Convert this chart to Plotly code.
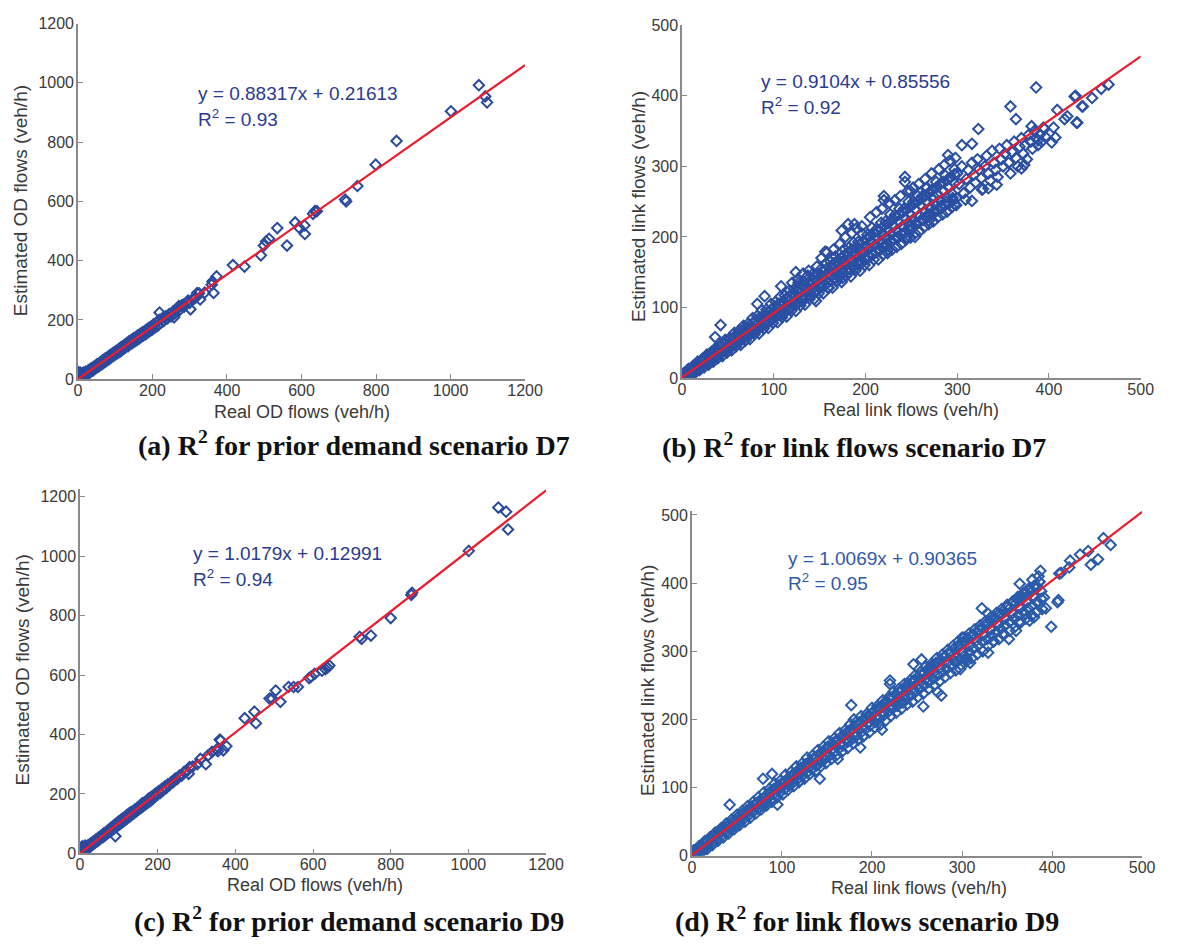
import plotly.graph_objects as go

# page is 1178x947; the browser body keeps an 8px margin, so the figure is drawn 8px in
PAGE_OFF = 8
FW, FH = 1161, 930

# ---------------- Panel (a): OD flows, scenario D7 ----------------
a_points = [
    (0, 5), (0, 15), (0, 25), (1, 2), (2, 10), (2, 0), (3, 18), (4, 6), (5, 0), (5, 12), (6, 22),
    (8, 4), (9, 14), (10, 8), (11, 20), (12, 3), (14, 12), (15, 22), (16, 8), (18, 18), (20, 12),
    (21, 26), (23, 15), (25, 24), (26, 16), (28, 30), (30, 22), (31, 32), (33, 24), (35, 36),
    (37, 28), (39, 38), (41, 30), (43, 42), (45, 35), (47, 45), (49, 38), (51, 50), (53, 42),
    (55, 52), (57, 44), (60, 57), (62, 50), (64, 61), (66, 52), (68, 65), (70, 57), (73, 70),
    (75, 60), (77, 72), (80, 66), (82, 77), (84, 68), (87, 82), (89, 74), (92, 86), (94, 78),
    (96, 90), (99, 82), (101, 94), (104, 86), (106, 98), (109, 90), (111, 103), (114, 94),
    (116, 108), (119, 99), (121, 112), (124, 104), (127, 118), (129, 108), (132, 122), (135, 112),
    (137, 128), (140, 118), (143, 132), (146, 122), (149, 138), (152, 127), (155, 142), (158, 132),
    (161, 148), (164, 137), (167, 153), (170, 143), (173, 158), (176, 148), (179, 162), (182, 152),
    (185, 168), (188, 158), (191, 174), (194, 163), (197, 178), (200, 168), (203, 185), (207, 175),
    (210, 190), (214, 180), (218, 200), (222, 190), (226, 205), (230, 196), (235, 212), (240, 205),
    (245, 220), (250, 212), (255, 228), (260, 222), (266, 238), (272, 232), (278, 248), (285, 245),
    (292, 260), (300, 258), (308, 270), (316, 275), (325, 290),
]
a_outliers = [
    (1076, 992), (1093, 954), (1098, 934), (1001, 904), (855, 804), (799, 724), (750, 652),
    (717, 606), (720, 600), (641, 567), (631, 558), (636, 567), (609, 490), (608, 519), (593, 512),
    (583, 529), (561, 451), (535, 510), (513, 474), (505, 465), (499, 451), (491, 418),
    (447, 380), (416, 385), (372, 347), (359, 319), (364, 291), (361, 330), (302, 236), (320, 291),
    (328, 269), (340, 292), (258, 209), (219, 225), (271, 247), (283, 252), (296, 265), (312, 274),
]
a_line_x = [0, 1200]
a_line_y = [0.22, 1060]

# ---------------- Panel (b): link flows, scenario D7 ----------------
b_center_x = [0, 3, 6, 9, 12, 15, 18, 21, 24, 27, 30, 33, 36, 39, 42, 45, 48, 51, 54, 57, 60, 63, 66, 69,
              72, 75, 78, 81, 84, 87, 90, 93, 96, 99, 102, 105, 108, 111, 114, 117, 120, 123, 126, 129,
              132, 135, 138, 141, 144, 147, 150, 153, 156, 159, 162, 165, 168, 171, 174, 177, 180, 183,
              186, 189, 192, 195, 198, 201, 204, 207, 210, 213, 216, 219, 222, 225, 228, 231, 234, 237,
              240, 243, 246, 249, 252, 255, 258, 261, 264, 267, 270, 273, 276, 279, 282, 285, 288, 291,
              294, 297]
b_center_y = [2, 4, 3, 10, 13, 12, 18, 17, 24, 23, 29, 31, 31, 38, 37, 43, 42, 48, 47, 55, 53, 59, 58, 65,
              63, 71, 69, 76, 74, 82, 80, 88, 85, 93, 91, 98, 96, 104, 101, 110, 107, 115, 112, 121, 118,
              126, 123, 132, 128, 137, 134, 143, 139, 148, 145, 154, 150, 160, 155, 165, 161, 170, 166,
              176, 172, 181, 177, 187, 183, 193, 188, 198, 193, 204, 199, 210, 204, 215, 209, 221, 215,
              227, 220, 232, 225, 238, 230, 244, 236, 249, 241, 254, 246, 260, 251, 265, 256, 270, 262, 276]
b_upper_x = [2, 7, 12, 17, 22, 27, 32, 37, 42, 47, 52, 57, 62, 67, 72, 77, 82, 87, 92, 97, 102, 107, 112,
             117, 122, 127, 132, 137, 142, 147, 152, 157, 162, 167, 172, 177, 182, 187, 192, 197, 202, 207,
             212, 217, 222, 227, 232, 237, 242, 247, 252, 257, 262, 267, 272, 277, 282, 287, 292, 297]
b_upper_y = [7, 13, 17, 23, 27, 33, 37, 43, 47, 54, 57, 64, 67, 74, 77, 85, 88, 96, 97, 105, 108, 115, 117,
             124, 126, 135, 137, 145, 147, 158, 155, 163, 165, 172, 175, 183, 185, 192, 193, 204, 203, 213,
             211, 220, 222, 232, 231, 240, 240, 250, 250, 258, 258, 270, 266, 278, 276, 287, 283, 296]
b_midup_x = [1, 5, 9, 13, 17, 21, 25, 29, 33, 37, 41, 45, 49, 53, 57, 61, 65, 69, 73, 77, 81, 85, 89, 93,
             97, 101, 105, 109, 113, 117, 121, 125, 129, 133, 137, 141, 145, 149, 153, 157, 161, 165, 169,
             173, 177, 181, 185, 189, 193, 197, 201, 205, 209, 213, 217, 221, 225, 229, 233, 237, 241, 245,
             249, 253, 257, 261, 265, 269, 273, 277, 281, 285, 289, 293, 297]
b_midup_y = [5, 9, 13, 17, 21, 24, 28, 32, 36, 40, 44, 48, 52, 55, 59, 63, 67, 70, 74, 78, 82, 86, 89, 93,
             97, 101, 105, 108, 112, 116, 120, 124, 128, 131, 135, 139, 143, 147, 151, 154, 158, 162, 166,
             170, 174, 178, 182, 185, 189, 193, 197, 201, 205, 208, 212, 216, 220, 224, 228, 232, 235, 239,
             243, 247, 251, 255, 258, 262, 266, 270, 274, 278, 281, 285, 289]
b_midlo_x = [3, 7, 11, 15, 19, 23, 27, 31, 35, 39, 43, 47, 51, 55, 59, 63, 67, 71, 75, 79, 83, 87, 91, 95,
             99, 103, 107, 111, 115, 119, 123, 127, 131, 135, 139, 143, 147, 151, 155, 159, 163, 167, 171,
             175, 179, 183, 187, 191, 195, 199, 203, 207, 211, 215, 219, 223, 227, 231, 235, 239, 243, 247,
             251, 255, 259, 263, 267, 271, 275, 279, 283, 287, 291, 295, 299]
b_midlo_y = [1, 4, 7, 11, 14, 18, 21, 25, 28, 32, 35, 38, 42, 45, 49, 52, 56, 59, 62, 66, 69, 73, 76, 80,
             83, 87, 90, 93, 97, 100, 104, 107, 111, 114, 118, 121, 124, 128, 131, 135, 138, 142, 145, 148,
             152, 155, 159, 162, 166, 169, 173, 176, 179, 183, 186, 190, 193, 197, 200, 204, 207, 210, 214,
             217, 221, 224, 228, 231, 234, 238, 241, 245, 248, 252, 255]
b_lower_x = [4, 9, 14, 19, 24, 29, 34, 39, 44, 49, 54, 59, 64, 69, 74, 79, 84, 89, 94, 99, 104, 109, 114,
             119, 124, 129, 134, 139, 144, 149, 154, 159, 164, 169, 174, 179, 184, 189, 194, 199, 204, 209,
             214, 219, 224, 229, 234, 239, 244, 249, 254, 259, 264, 269, 274, 279, 284, 289, 294, 299]
b_lower_y = [0, 3, 7, 11, 15, 19, 23, 28, 31, 36, 39, 45, 47, 53, 55, 62, 63, 70, 71, 78, 79, 86, 87, 95,
             95, 103, 104, 112, 112, 120, 120, 128, 128, 137, 136, 145, 144, 152, 152, 160, 160, 168, 168,
             175, 177, 182, 186, 190, 196, 199, 205, 208, 214, 218, 222, 228, 232, 236, 242, 245]
b_extra = [
    (152, 170), (158, 178), (165, 182), (172, 190), (178, 200), (185, 205), (190, 212), (196, 215),
    (160, 128), (168, 138), (175, 142), (182, 150), (188, 155), (195, 162), (202, 168), (208, 175),
    (215, 180), (222, 186), (228, 195), (235, 198), (242, 205), (248, 215), (255, 220), (262, 226),
    (268, 232), (275, 238), (282, 244), (288, 250), (295, 255), (205, 228), (212, 235), (218, 240),
    (226, 248), (232, 252), (238, 258), (246, 265), (252, 270), (258, 275), (265, 282), (272, 290),
    (280, 296), (286, 302), (292, 308), (298, 312), (120, 135), (126, 140), (132, 148), (138, 152),
    (110, 90), (118, 98), (125, 104), (132, 110), (140, 116), (146, 122),
    (300, 290), (302, 275), (305, 300), (307, 262), (310, 282), (312, 295), (314, 270), (316, 305),
    (318, 288), (320, 277), (322, 310), (324, 296), (326, 283), (328, 268), (330, 300), (332, 315),
    (334, 290), (336, 280), (338, 322), (340, 305), (342, 295), (344, 285), (346, 325), (348, 310),
    (350, 300), (352, 318), (354, 330), (356, 305), (358, 290), (360, 320), (362, 335), (364, 312),
    (366, 300), (368, 328), (370, 340), (372, 318), (374, 330), (376, 310), (378, 345), (380, 335),
    (382, 325), (384, 350), (386, 340), (388, 330), (390, 345), (392, 335), (394, 355), (396, 342),
]
b_outliers = [
    (386, 412), (358, 385), (428, 399), (436, 385), (430, 362), (420, 371), (409, 380), (405, 355),
    (395, 353), (388, 337), (373, 302), (370, 297), (364, 367), (323, 353), (343, 274), (334, 269),
    (327, 267), (309, 253), (316, 251), (297, 246), (305, 330), (316, 332), (290, 316), (243, 285),
    (243, 278), (220, 258), (220, 252), (254, 200), (224, 181), (174, 209), (181, 218), (188, 218),
    (249, 265), (266, 269), (274, 258), (259, 253), (465, 416), (457, 410), (447, 397), (437, 385),
    (429, 400), (431, 362), (417, 367), (407, 341), (403, 334), (381, 357), (245, 200), (269, 223),
    (156, 179), (124, 150), (108, 130), (90, 116), (82, 105), (146, 109), (42, 75), (36, 58),
]
b_line_x = [0, 500]
b_line_y = [0.86, 456]

# ---------------- Panel (c): OD flows, scenario D9 ----------------
c_points = [
    (0, 5), (0, 18), (1, 0), (2, 10), (3, 2), (4, 16), (5, 6), (6, 24), (7, 3), (8, 12), (9, 20),
    (10, 6), (12, 16), (13, 26), (14, 10), (16, 20), (17, 12), (19, 25), (20, 16), (22, 28), (24, 20),
    (25, 30), (27, 24), (29, 35), (31, 28), (33, 38), (35, 32), (37, 42), (39, 36), (41, 46), (43, 40),
    (45, 50), (47, 44), (49, 54), (51, 48), (53, 58), (55, 52), (58, 63), (60, 56), (62, 68), (64, 60),
    (67, 72), (69, 66), (71, 76), (74, 70), (76, 82), (78, 74), (81, 88), (83, 78), (86, 92), (88, 84),
    (90, 97), (91, 58), (93, 90), (95, 102), (98, 94), (100, 108), (102, 98), (105, 112), (107, 103),
    (110, 118), (112, 108), (115, 122), (117, 113), (120, 128), (122, 118), (125, 133), (128, 124),
    (130, 138), (133, 130), (136, 142), (139, 135), (142, 148), (145, 141), (148, 154), (151, 147),
    (154, 160), (157, 153), (160, 168), (163, 159), (166, 172), (169, 165), (172, 178), (175, 171),
    (178, 186), (181, 176), (184, 190), (187, 183), (190, 196), (193, 190), (196, 203), (200, 198),
    (203, 210), (207, 204), (210, 216), (214, 212), (218, 225), (222, 220), (226, 232), (230, 230),
    (235, 240), (240, 240), (245, 252), (250, 250), (256, 262), (262, 262), (268, 274), (275, 276),
    (282, 290), (290, 292),
]
c_outliers = [
    (1077, 1164), (1097, 1150), (1102, 1090), (1001, 1018), (855, 877), (853, 870), (800, 792),
    (720, 729), (725, 722), (749, 733), (642, 632), (637, 625), (632, 620), (623, 615), (604, 604),
    (590, 590), (595, 595), (561, 560), (550, 560), (537, 560), (516, 510), (504, 548), (495, 521),
    (488, 521), (453, 438), (449, 477), (424, 455), (360, 383), (377, 361), (352, 350), (369, 347),
    (355, 344), (362, 380), (324, 300), (302, 300), (280, 268), (310, 318), (330, 330), (340, 342),
]
c_line_x = [0, 1200]
c_line_y = [0.13, 1221.6]

# ---------------- Panel (d): link flows, scenario D9 ----------------
d_center_x = [0, 4, 8, 12, 16, 20, 24, 28, 32, 36, 40, 44, 48, 52, 56, 60, 64, 68, 72, 76, 80, 84, 88, 92,
              96, 100, 104, 108, 112, 116, 120, 124, 128, 132, 136, 140, 144, 148, 152, 156, 160, 164, 168,
              172, 176, 180, 184, 188, 192, 196, 200, 204, 208, 212, 216, 220, 224, 228, 232, 236, 240,
              244, 248, 252, 256, 260, 264, 268, 272, 276, 280, 284, 288, 292, 296, 300, 304, 308, 312,
              316, 320, 324, 328, 332, 336, 340, 344, 348, 352, 356, 360, 364, 368, 372, 376, 380, 384, 388]
d_center_y = [2, 3, 10, 12, 19, 20, 27, 28, 35, 36, 43, 44, 51, 52, 59, 60, 67, 68, 76, 76, 84, 84, 92, 92,
              100, 100, 109, 108, 117, 116, 125, 124, 133, 132, 141, 140, 150, 148, 158, 156, 166, 164, 174,
              172, 183, 180, 191, 188, 199, 196, 208, 204, 216, 212, 224, 220, 232, 228, 241, 236, 249,
              244, 257, 252, 265, 260, 273, 268, 282, 276, 290, 284, 298, 292, 306, 300, 314, 308, 322,
              316, 330, 324, 338, 332, 346, 340, 354, 348, 362, 356, 371, 364, 378, 372, 386, 380, 394, 388]
d_upper_x = [2, 8, 14, 20, 26, 32, 38, 44, 50, 56, 62, 68, 74, 80, 86, 92, 98, 104, 110, 116, 122, 128, 134,
             140, 146, 152, 158, 164, 170, 176, 182, 188, 194, 200, 206, 212, 218, 224, 230, 236, 242, 248,
             254, 260, 266, 272, 278, 284, 290, 296, 302, 308, 314, 320, 326, 332, 338, 344, 350, 356, 362,
             368, 374, 380, 386]
d_upper_y = [8, 14, 21, 27, 34, 40, 47, 53, 60, 66, 73, 79, 86, 93, 98, 106, 110, 119, 123, 131, 135, 144,
             147, 155, 160, 168, 172, 180, 184, 193, 196, 205, 208, 217, 220, 228, 232, 241, 245, 252, 257,
             265, 270, 278, 282, 290, 295, 302, 308, 315, 320, 326, 332, 338, 344, 350, 356, 362, 368, 373,
             380, 385, 392, 396, 402]
d_midup_x = [1, 6, 11, 16, 21, 26, 31, 36, 41, 46, 51, 56, 61, 66, 71, 76, 81, 86, 91, 96, 101, 106, 111,
             116, 121, 126, 131, 136, 141, 146, 151, 156, 161, 166, 171, 176, 181, 186, 191, 196, 201, 206,
             211, 216, 221, 226, 231, 236, 241, 246, 251, 256, 261, 266, 271, 276, 281, 286, 291, 296, 301,
             306, 311, 316, 321, 326, 331, 336, 341, 346, 351, 356, 361, 366, 371, 376, 381, 386]
d_midup_y = [5, 10, 15, 21, 26, 31, 36, 41, 46, 51, 57, 62, 67, 72, 77, 82, 87, 93, 98, 103, 108, 113, 118,
             123, 129, 134, 139, 144, 149, 154, 160, 165, 170, 175, 180, 185, 190, 196, 201, 206, 211, 216,
             221, 226, 232, 237, 242, 247, 252, 257, 263, 268, 273, 278, 283, 288, 293, 299, 304, 309, 314,
             319, 324, 329, 335, 340, 345, 350, 355, 360, 366, 371, 376, 381, 386, 391, 396, 402]
d_midlo_x = [3, 8, 13, 18, 23, 28, 33, 38, 43, 48, 53, 58, 63, 68, 73, 78, 83, 88, 93, 98, 103, 108, 113,
             118, 123, 128, 133, 138, 143, 148, 153, 158, 163, 168, 173, 178, 183, 188, 193, 198, 203, 208,
             213, 218, 223, 228, 233, 238, 243, 248, 253, 258, 263, 268, 273, 278, 283, 288, 293, 298, 303,
             308, 313, 318, 323, 328, 333, 338, 343, 348, 353, 358, 363, 368, 373, 378, 383, 388]
d_midlo_y = [0, 5, 10, 15, 20, 24, 29, 34, 39, 44, 49, 54, 59, 64, 69, 73, 78, 83, 88, 93, 98, 103, 108,
             113, 118, 122, 127, 132, 137, 142, 147, 152, 157, 162, 167, 171, 176, 181, 186, 191, 196, 201,
             206, 211, 216, 220, 225, 230, 235, 240, 245, 250, 255, 260, 265, 269, 274, 279, 284, 289, 294,
             299, 304, 309, 314, 318, 323, 328, 333, 338, 343, 348, 353, 358, 363, 367, 372, 377]
d_lower_x = [5, 11, 17, 23, 29, 35, 41, 47, 53, 59, 65, 71, 77, 83, 89, 95, 101, 107, 113, 119, 125, 131,
             137, 143, 149, 155, 161, 167, 173, 179, 185, 191, 197, 203, 209, 215, 221, 227, 233, 239, 245,
             251, 257, 263, 269, 275, 281, 287, 293, 299, 305, 311, 317, 323, 329, 335, 341, 347, 353, 359,
             365, 371, 377, 383, 389]
d_lower_y = [0, 5, 10, 16, 22, 27, 33, 39, 45, 50, 56, 62, 68, 74, 79, 86, 90, 97, 102, 108, 113, 120, 124,
             131, 136, 142, 148, 153, 158, 165, 170, 176, 181, 188, 192, 198, 205, 210, 216, 222, 226, 233,
             238, 245, 250, 256, 262, 268, 272, 280, 285, 290, 296, 300, 308, 314, 318, 325, 330, 336, 342,
             348, 352, 358, 362]
d_outliers = [
    (465, 456), (457, 466), (451, 435), (443, 427), (440, 447), (431, 442), (420, 433), (419, 423),
    (410, 415), (408, 414), (407, 375), (406, 372), (399, 336), (393, 363), (391, 379), (387, 418),
    (385, 410), (364, 399), (378, 405), (363, 343), (322, 363), (329, 355), (329, 298), (304, 288),
    (309, 283), (291, 286), (298, 274), (273, 240), (277, 235), (257, 219), (255, 288), (246, 281),
    (220, 257), (220, 252), (228, 221), (211, 185), (177, 221), (187, 159), (162, 142), (142, 113),
    (79, 113), (89, 120), (42, 75), (95, 75), (345, 325), (352, 318), (370, 355), (375, 345),
    (380, 350), (360, 330), (335, 315), (340, 340), (300, 320), (305, 290), (265, 275), (240, 250),
    (235, 225), (180, 200), (190, 175), (130, 135), (120, 110), (150, 145),
]
d_line_x = [0, 500]
d_line_y = [0.9, 504.4]

# ---------------- texts ----------------
eq_text = ["y = 0.88317x + 0.21613", "y = 0.9104x + 0.85556", "y = 1.0179x + 0.12991", "y = 1.0069x + 0.90365"]
r2_text = ["0.93", "0.92", "0.94", "0.95"]
captions = ["(a) R<sup>2</sup> for prior demand scenario D7", "(b) R<sup>2</sup> for link flows scenario D7",
            "(c) R<sup>2</sup> for prior demand scenario D9", "(d) R<sup>2</sup> for link flows scenario D9"]
xtitles = ["Real OD flows (veh/h)", "Real link flows (veh/h)", "Real OD flows (veh/h)", "Real link flows (veh/h)"]
ytitles = ["Estimated OD flows (veh/h)", "Estimated link flows (veh/h)", "Estimated OD flows (veh/h)",
           "Estimated link flows (veh/h)"]
od_ticks = [0, 200, 400, 600, 800, 1000, 1200]
link_ticks = [0, 100, 200, 300, 400, 500]


def unzip(pts):
    return [p[0] for p in pts], [p[1] for p in pts]


panels = []
ax_, ay_ = unzip(a_points + a_outliers)
panels.append((ax_, ay_, a_line_x, a_line_y))
bx = (b_center_x + b_upper_x + b_midup_x + b_midlo_x + b_lower_x
      + unzip(b_extra)[0] + unzip(b_outliers)[0])
by = (b_center_y + b_upper_y + b_midup_y + b_midlo_y + b_lower_y
      + unzip(b_extra)[1] + unzip(b_outliers)[1])
panels.append((bx, by, b_line_x, b_line_y))
cx_, cy_ = unzip(c_points + c_outliers)
panels.append((cx_, cy_, c_line_x, c_line_y))
dx = d_center_x + d_upper_x + d_midup_x + d_midlo_x + d_lower_x + unzip(d_outliers)[0]
dy = d_center_y + d_upper_y + d_midup_y + d_midlo_y + d_lower_y + unzip(d_outliers)[1]
panels.append((dx, dy, d_line_x, d_line_y))

marker_colors = ["#2a4a9e", "#2a4fa3", "#2a4a9e", "#2a5bab"]
eq_colors = ["#2b3a92", "#2b3a92", "#2b3a92", "#2f5aab"]

fig = go.Figure()
for i, (px, py, lx, ly) in enumerate(panels):
    xa = "x" if i == 0 else f"x{i+1}"
    ya = "y" if i == 0 else f"y{i+1}"
    fig.add_trace(go.Scatter(x=px, y=py, mode="markers", xaxis=xa, yaxis=ya, showlegend=False,
                             marker=dict(symbol="diamond-open", size=8, color=marker_colors[i],
                                         line=dict(width=2.0, color=marker_colors[i]))))
    fig.add_trace(go.Scatter(x=lx, y=ly, mode="lines", xaxis=xa, yaxis=ya, showlegend=False,
                             line=dict(color="#ec1c2e", width=2.2)))


def px2x(p):
    return (p - PAGE_OFF) / FW


def px2y(p):
    return 1 - (p - PAGE_OFF) / FH


# plot-area boxes in page pixels: left, right, bottom, top (of range max)
boxes = [
    (75.2, 531.0, 378.0, 15.7, [0, 1200], [0, 1200], od_ticks),
    (691.0, 1158.5, 376.7, 17.5, [0, 500], [0, 500], link_ticks),
    (77.3, 552.4, 861.0, 490.2, [0, 1200], [0, 1225], od_ticks),
    (701.0, 1160.0, 863.4, 512.1, [0, 500], [0, 506], link_ticks),
]
axis_common = dict(showline=True, linecolor="#8a8a8a", linewidth=1.5, ticks="inside", ticklen=5,
                   tickwidth=1.3, tickcolor="#8a8a8a", showgrid=False, zeroline=False,
                   tickfont=dict(family="Liberation Sans, Arial", size=16, color="#3a3a3a"))
layout = dict(width=FW, height=FH, margin=dict(l=0, r=0, t=0, b=0), paper_bgcolor="white",
              plot_bgcolor="white", showlegend=False)
for i, (l, r, b, t, xr, yr, tv) in enumerate(boxes):
    xk = "xaxis" if i == 0 else f"xaxis{i+1}"
    yk = "yaxis" if i == 0 else f"yaxis{i+1}"
    xa = "x" if i == 0 else f"x{i+1}"
    ya = "y" if i == 0 else f"y{i+1}"
    layout[xk] = dict(domain=[px2x(l), px2x(r)], range=xr, anchor=ya, tickvals=tv,
                      ticklabelstandoff=-4, **axis_common)
    layout[yk] = dict(domain=[px2y(b), px2y(t)], range=yr, anchor=xa, tickvals=tv,
                      ticklabelstandoff=-1, **axis_common)
fig.update_layout(**layout)

# annotation positions in page pixels
eq_pos = [(195.6, 87.3, 111.7), (769, 75, 99.3), (190, 555, 580), (797, 560.7, 585)]
xt_pos = [(304, 411), (924.5, 409), (316.8, 893.5), (933, 896)]
yt_pos = [(17, 195.8), (646, 201.7), (18.8, 674), (655.6, 685)]
cap_pos = [(357, 443.3), (866, 445), (351, 928), (879.6, 928)]

ann = []
for i in range(4):
    ex, ey1, ey2 = eq_pos[i]
    ann.append(dict(x=px2x(ex), y=px2y(ey1), xref="paper", yref="paper", xanchor="left", yanchor="middle",
                    text=eq_text[i], showarrow=False,
                    font=dict(family="Liberation Sans, Arial", size=19, color=eq_colors[i])))
    ann.append(dict(x=px2x(ex), y=px2y(ey2), xref="paper", yref="paper", xanchor="left", yanchor="middle",
                    text="R<sup>2</sup> = " + r2_text[i], showarrow=False,
                    font=dict(family="Liberation Sans, Arial", size=19, color=eq_colors[i])))
    ann.append(dict(x=px2x(xt_pos[i][0]), y=px2y(xt_pos[i][1]), xref="paper", yref="paper",
                    xanchor="center", yanchor="middle", text=xtitles[i], showarrow=False,
                    font=dict(family="Liberation Sans, Arial", size=18, color="#3a3a3a")))
    ann.append(dict(x=px2x(yt_pos[i][0]), y=px2y(yt_pos[i][1]), xref="paper", yref="paper",
                    xanchor="center", yanchor="middle", text=ytitles[i], showarrow=False, textangle=-90,
                    font=dict(family="Liberation Sans, Arial", size=19, color="#3a3a3a")))
    ann.append(dict(x=px2x(cap_pos[i][0]), y=px2y(cap_pos[i][1]), xref="paper", yref="paper",
                    xanchor="center", yanchor="middle", text="<b>" + captions[i] + "</b>", showarrow=False,
                    font=dict(family="Liberation Serif, Times New Roman", size=28, color="#111111")))
fig.update_layout(annotations=ann)

fig.write_html("out.html")
